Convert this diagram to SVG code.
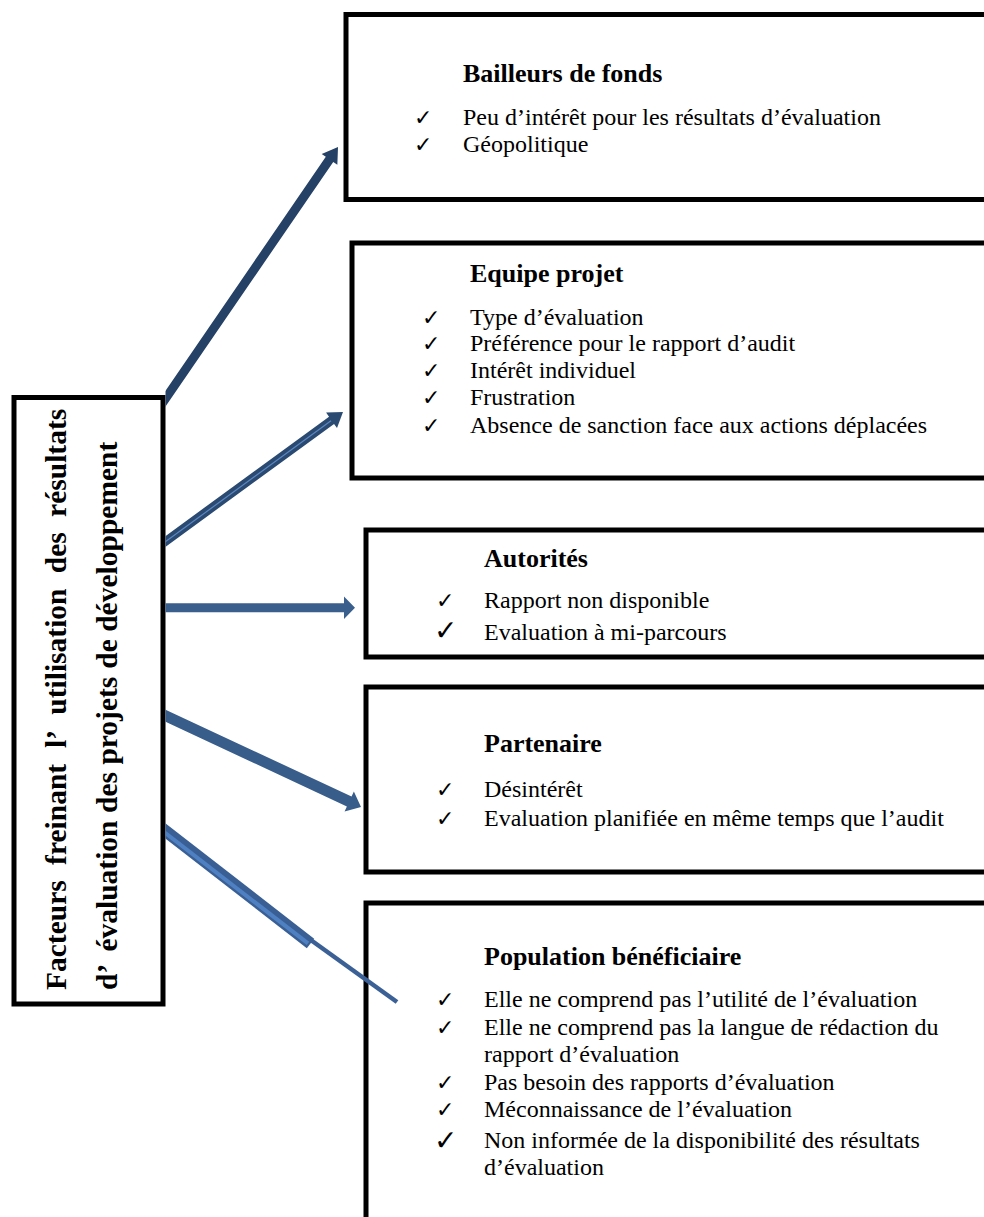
<svg xmlns="http://www.w3.org/2000/svg" width="984" height="1217" viewBox="0 0 984 1217">
<style>
.box{fill:#fff;stroke:#000;stroke-width:5}
.ttl{font-family:'Liberation Serif','Times New Roman',serif;font-weight:700;font-size:26px;fill:#000}
.itm{font-family:'Liberation Serif','Times New Roman',serif;font-weight:400;font-style:normal;font-size:24px;fill:#000}
.chk{font-family:'DejaVu Sans',sans-serif;font-size:22px;fill:#000}
.chkL{font-family:'DejaVu Sans',sans-serif;font-size:28px;fill:#000}
.main{font-family:'Liberation Serif','Times New Roman',serif;font-weight:700;font-size:29.5px;fill:#000}
</style>
<defs>
<clipPath id="clipConn"><rect x="165.5" y="0" width="820" height="1217"/></clipPath>
</defs>
<rect width="984" height="1217" fill="#fff"/>
<g id="node-main">
  <rect class="box" x="14" y="397.5" width="149" height="606.5"/>
  <text class="main" transform="translate(66,990) rotate(-90)"><tspan x="0">Facteurs</tspan><tspan x="125.1">freinant</tspan><tspan x="242">l’</tspan><tspan x="275.3">utilisation</tspan><tspan x="416.8">des</tspan><tspan x="473.1">résultats</tspan></text>
  <text class="main" transform="translate(117,990) rotate(-90)"><tspan x="0">d’</tspan><tspan x="38.4">évaluation</tspan><tspan x="177">des</tspan><tspan x="225.4">projets</tspan><tspan x="321.3">de</tspan><tspan x="358.2">développement</tspan></text>
</g>
<g id="node-bailleurs">
  <rect class="box" x="346" y="14.5" width="700" height="185"/>
  <text class="ttl" x="463" y="82">Bailleurs de fonds</text>
  <text class="chk" x="414" y="125">✓</text>
  <text class="itm" x="463" y="125">Peu d’intérêt pour les résultats d’évaluation</text>
  <text class="chk" x="414" y="152">✓</text>
  <text class="itm" x="463" y="152">Géopolitique</text>
</g>
<g id="node-equipe">
  <rect class="box" x="352" y="243" width="700" height="235"/>
  <text class="ttl" x="470" y="282">Equipe projet</text>
  <text class="chk" x="422" y="325">✓</text>
  <text class="itm" x="470" y="325">Type d’évaluation</text>
  <text class="chk" x="422" y="351">✓</text>
  <text class="itm" x="470" y="351">Préférence pour le rapport d’audit</text>
  <text class="chk" x="422" y="378">✓</text>
  <text class="itm" x="470" y="378">Intérêt individuel</text>
  <text class="chk" x="422" y="405">✓</text>
  <text class="itm" x="470" y="405">Frustration</text>
  <text class="chk" x="422" y="433">✓</text>
  <text class="itm" x="470" y="433">Absence de sanction face aux actions déplacées</text>
</g>
<g id="node-autorites">
  <rect class="box" x="366" y="530" width="700" height="127"/>
  <text class="ttl" x="484" y="567">Autorités</text>
  <text class="chk" x="436" y="608">✓</text>
  <text class="itm" x="484" y="608">Rapport non disponible</text>
  <text class="chkL" x="434" y="640">✓</text>
  <text class="itm" x="484" y="640">Evaluation à mi-parcours</text>
</g>
<g id="node-partenaire">
  <rect class="box" x="366" y="687" width="700" height="185"/>
  <text class="ttl" x="484" y="752">Partenaire</text>
  <text class="chk" x="436" y="797">✓</text>
  <text class="itm" x="484" y="797">Désintérêt</text>
  <text class="chk" x="436" y="826">✓</text>
  <text class="itm" x="484" y="826">Evaluation planifiée en même temps que l’audit</text>
</g>
<g id="node-population">
  <rect class="box" x="366" y="903" width="700" height="400"/>
  <text class="ttl" x="484" y="965">Population bénéficiaire</text>
  <text class="chk" x="436" y="1007">✓</text>
  <text class="itm" x="484" y="1007">Elle ne comprend pas l’utilité de l’évaluation</text>
  <text class="chk" x="436" y="1035">✓</text>
  <text class="itm" x="484" y="1035">Elle ne comprend pas la langue de rédaction du</text>
  <text class="itm" x="484" y="1062">rapport d’évaluation</text>
  <text class="chk" x="436" y="1090">✓</text>
  <text class="itm" x="484" y="1090">Pas besoin des rapports d’évaluation</text>
  <text class="chk" x="436" y="1117">✓</text>
  <text class="itm" x="484" y="1117">Méconnaissance de l’évaluation</text>
  <text class="chkL" x="434" y="1150">✓</text>
  <text class="itm" x="484" y="1148">Non informée de la disponibilité des résultats</text>
  <text class="itm" x="484" y="1175">d’évaluation</text>
</g>
<g id="connectors" clip-path="url(#clipConn)">
  <polygon fill="#264166" points="161.71,412.14 333.23,161.91 337.35,164.74 338,147 321.69,154 325.81,156.83 154.29,407.06"/>
  <polygon fill="#2a4a72" points="157.06,552.94 334.05,423.89 337,427.93 343,412 326.08,412.59 329.03,416.63 152.34,545.66"/>
  <line x1="157" y1="547.8" x2="331" y2="420.8" stroke="#5b87c0" stroke-width="1.2"/>
  <polygon fill="#3a5f8c" points="155,603.3 344,603.3 344,596.5 355,607.8 344,619 344,612.3 155,612.3"/>
  <polygon fill="#385d8a" points="152.67,715.81 346.89,806.48 344.57,811.47 361,807 353.87,791.53 351.55,796.52 157.33,705.85"/>
  <line x1="308" y1="938" x2="397" y2="1002" stroke="#3b6096" stroke-width="4.5"/>
  <polygon fill="#395f94" points="163.68,821.96 314.18,938.76 306.82,948.24 156.32,831.44"/>
  <line x1="159" y1="828.1" x2="308" y2="943.4" stroke="#4f80c2" stroke-width="4"/>
</g>
</svg>
